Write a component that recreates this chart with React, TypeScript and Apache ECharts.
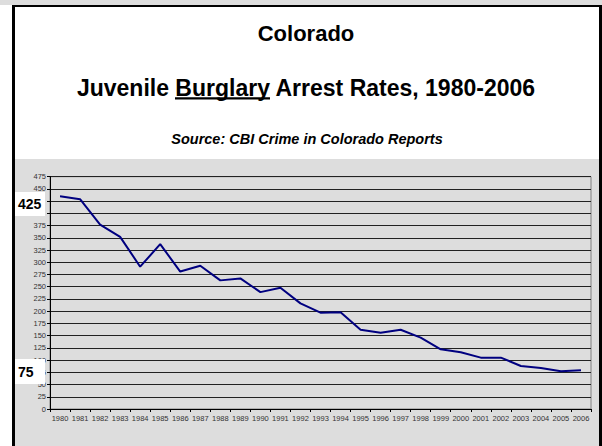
import React, { useEffect, useRef } from "react";
import * as echarts from "echarts";

const years = ["1980","1981","1982","1983","1984","1985","1986","1987","1988","1989","1990","1991","1992","1993","1994","1995","1996","1997","1998","1999","2000","2001","2002","2003","2004","2005","2006"];
const rates = [435,429,377,352,291,337,281,293,263,267,239,248,216,197,198,162,156,162,146,122,116,105,105,88,84,77,79];
const mainTitle = "Colorado";
const subTitle = "Juvenile Burglary Arrest Rates, 1980-2006";
const sourceText = "Source: CBI Crime in Colorado Reports";
const callouts = ["425", "75"];
const hiddenTickValues = [400, 425];

export default function App() {
  const ref = useRef<HTMLDivElement>(null);
  useEffect(() => {
    if (!ref.current) return;
    const chart = echarts.init(ref.current, null, { renderer: "svg" });
    const font = "'Liberation Sans', Arial, sans-serif";
    chart.setOption({
      animation: false,
      backgroundColor: "#ffffff",
      graphic: [
        { type: "rect", z: -10, shape: { x: 0, y: 0, width: 602, height: 5 }, style: { fill: "#dddddd" } },
        { type: "rect", z: -10, shape: { x: 15, y: 159, width: 584, height: 287 }, style: { fill: "#dddddd" } },
        { type: "rect", z: 50, shape: { x: 12, y: 5, width: 590, height: 2 }, style: { fill: "#000" } },
        { type: "rect", z: 50, shape: { x: 12, y: 5, width: 3, height: 441 }, style: { fill: "#000" } },
        { type: "rect", z: 50, shape: { x: 599, y: 5, width: 3, height: 441 }, style: { fill: "#000" } },
        { type: "text", z: 45, x: 306, y: 33.5, style: { text: mainTitle, fontFamily: font, fontSize: 22, fontWeight: "bold", fill: "#000", align: "center", verticalAlign: "middle" } },
        { type: "text", z: 45, x: 306, y: 88, style: { text: subTitle, fontFamily: font, fontSize: 23, fontWeight: "bold", fill: "#000", align: "center", verticalAlign: "middle" } },
        { type: "rect", z: 45, shape: { x: 175, y: 97.2, width: 95, height: 2.4 }, style: { fill: "#000" } },
        { type: "text", z: 45, x: 307, y: 138.7, style: { text: sourceText, fontFamily: font, fontSize: 14.5, fontWeight: "bold", fontStyle: "italic", fill: "#000", align: "center", verticalAlign: "middle" } },
        { type: "rect", z: 40, shape: { x: 15, y: 192, width: 30, height: 24 }, style: { fill: "#fff" } },
        { type: "text", z: 41, x: 18, y: 204, style: { text: callouts[0], fontFamily: font, fontSize: 14, fontWeight: "bold", fill: "#000", verticalAlign: "middle" } },
        { type: "rect", z: 40, shape: { x: 15, y: 359, width: 30, height: 25 }, style: { fill: "#fff" } },
        { type: "text", z: 41, x: 18, y: 371.5, style: { text: callouts[1], fontFamily: font, fontSize: 14, fontWeight: "bold", fill: "#000", verticalAlign: "middle" } },
      ],
      grid: { left: 50, right: 11, top: 176.7, bottom: 37, show: true, backgroundColor: "transparent", borderColor: "#808080", borderWidth: 1 },
      xAxis: {
        type: "category",
        data: years,
        boundaryGap: true,
        axisLine: { lineStyle: { color: "#000", width: 1 } },
        axisTick: { show: true, length: 3, inside: false, lineStyle: { color: "#000" } },
        axisLabel: { fontFamily: font, fontSize: 7.5, color: "#333", margin: 5, interval: 0 },
      },
      yAxis: {
        type: "value",
        min: 0, max: 475, interval: 25,
        axisLine: { show: true, lineStyle: { color: "#000", width: 1 } },
        axisTick: { show: true, length: 3, lineStyle: { color: "#000" } },
        axisLabel: {
          fontFamily: font, fontSize: 7.5, color: "#333", margin: 4,
          formatter: (v: number) => (hiddenTickValues.indexOf(v) >= 0 ? "" : String(v)),
        },
        splitLine: { show: true, lineStyle: { color: "#222", width: 1 } },
      },
      series: [
        { type: "line", data: rates, symbol: "none", lineStyle: { color: "#000080", width: 2 }, z: 5 },
      ],
    });
    return () => chart.dispose();
  }, []);
  return <div ref={ref} style={{ position: "fixed", left: 0, top: 0, width: 602, height: 446 }} />;
}
